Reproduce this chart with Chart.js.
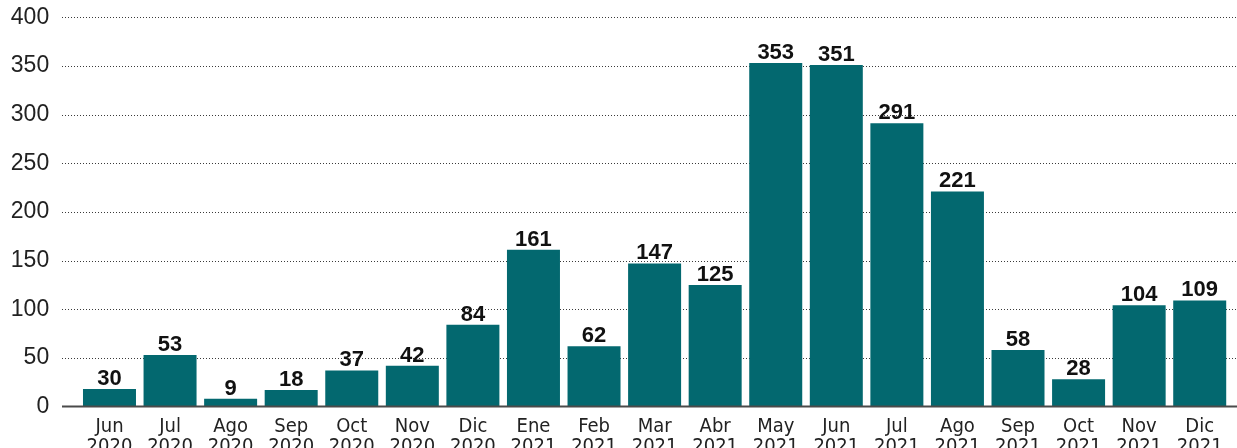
<!DOCTYPE html>
<html>
<head>
<meta charset="utf-8">
<script src="https://cdn.jsdelivr.net/npm/chart.js@4/dist/chart.umd.min.js"></script>
<style>
  html, body { margin: 0; padding: 0; background: #fff; }
  #wrap { width: 1237px; height: 448px; position: relative; }
</style>
</head>
<body>
<div id="wrap"><canvas id="monthlyBarChart"></canvas></div>
<script>
// chart values
var months = ['Jun', 'Jul', 'Ago', 'Sep', 'Oct', 'Nov', 'Dic', 'Ene', 'Feb', 'Mar', 'Abr', 'May', 'Jun', 'Jul', 'Ago', 'Sep', 'Oct', 'Nov', 'Dic'];
var years = ['2020', '2020', '2020', '2020', '2020', '2020', '2020', '2021', '2021', '2021', '2021', '2021', '2021', '2021', '2021', '2021', '2021', '2021', '2021'];
// bar heights as drawn in the picture (first bar is shorter than its label says)
var barValues = [18, 53, 8, 17, 37, 42, 84, 161, 62, 147, 125, 353, 351, 291, 221, 58, 28, 104, 109];
// numbers printed above the bars
var labelValues = [30, 53, 9, 18, 37, 42, 84, 161, 62, 147, 125, 353, 351, 291, 221, 58, 28, 104, 109];
var yTicks = [0, 50, 100, 150, 200, 250, 300, 350, 400];

var categoryLabels = months.map((m, i) => [m, years[i]]);

// dotted grid + baseline, running wider than the bar area
var gridPlugin = {
    id: 'wideGrid',
    beforeDatasetsDraw(chart) {
        var ctx = chart.ctx;
        var y = chart.scales.y;
        ctx.save();
        ctx.strokeStyle = '#3a3a3a';
        ctx.lineWidth = 1;
        ctx.setLineDash([1, 2]);
        yTicks.forEach(function (v) {
            if (v === 0) return;
            var py = Math.round(y.getPixelForValue(v)) + 0.5;
            ctx.beginPath();
            ctx.moveTo(62, py);
            ctx.lineTo(chart.width, py);
            ctx.stroke();
        });
        ctx.restore();
    },
    afterDatasetsDraw(chart) {
        var ctx = chart.ctx;
        var y = chart.scales.y;
        var meta = chart.getDatasetMeta(0);
        ctx.save();
        // baseline
        ctx.strokeStyle = '#4a4a4a';
        ctx.lineWidth = 2;
        var py0 = y.getPixelForValue(0);
        ctx.beginPath();
        ctx.moveTo(62, py0);
        ctx.lineTo(chart.width, py0);
        ctx.stroke();
        // value labels
        ctx.fillStyle = '#111';
        ctx.font = 'bold 22px "Liberation Sans", Arial, sans-serif';
        ctx.textAlign = 'center';
        ctx.textBaseline = 'alphabetic';
        meta.data.forEach(function (bar, i) {
            ctx.fillText(String(labelValues[i]), bar.x, bar.y - 4);
        });
        ctx.restore();
    }
};

var ctx = document.getElementById('monthlyBarChart').getContext('2d');
var chart = new Chart(ctx, {
    type: 'bar',
    data: {
        labels: categoryLabels,
        datasets: [{
            data: barValues,
            backgroundColor: '#03686f',
            borderWidth: 0,
            categoryPercentage: 1.0,
            barPercentage: 0.875,
        }]
    },
    options: {
        responsive: true,
        maintainAspectRatio: false,
        animation: false,
        layout: {
            padding: { top: 17.3, right: 7, left: 0, bottom: 0 }
        },
        plugins: {
            legend: { display: false },
            tooltip: { enabled: false },
        },
        scales: {
            x: {
                grid: { display: false, drawTicks: false },
                border: { display: false },
                afterFit: function (scale) {
                    scale.height = 41.5;
                    scale.paddingTop = 0;
                    scale.paddingBottom = 0;
                    scale.paddingLeft = 0;
                    scale.paddingRight = 0;
                },
                ticks: {
                    color: '#222',
                    padding: 10,
                    maxRotation: 0,
                    autoSkip: false,
                    font: { family: '"Liberation Sans Narrow", "DejaVu Sans Condensed", "Liberation Sans", sans-serif', size: 20, lineHeight: 1.0 },
                },
            },
            y: {
                min: 0,
                max: 400,
                afterFit: function (scale) {
                    scale.width = 79.2;
                    scale.paddingTop = 0;
                    scale.paddingBottom = 0;
                },
                afterBuildTicks: function (scale) { scale.ticks = yTicks.map(v => ({ value: v })); },
                grid: { display: false, drawTicks: false },
                border: { display: false },
                ticks: {
                    color: '#222',
                    padding: 30,
                    font: { family: '"Liberation Sans", Arial, sans-serif', size: 23 },
                },
            }
        }
    },
    plugins: [gridPlugin]
});
</script>
</body>
</html>
